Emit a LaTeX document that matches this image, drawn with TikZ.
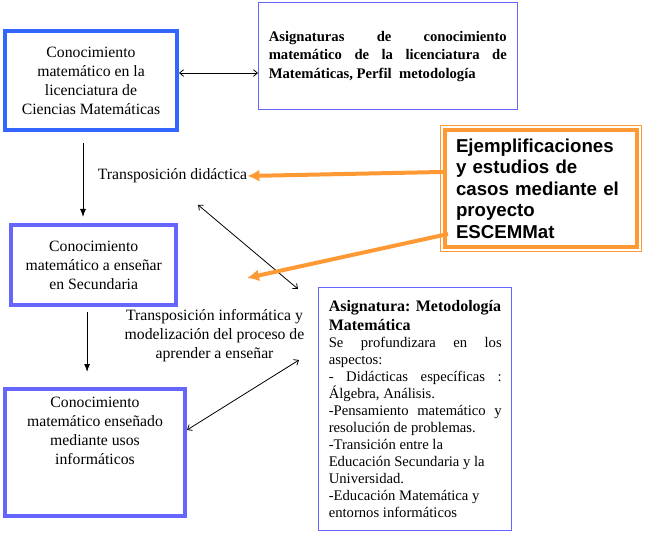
\documentclass[tikz,border=0pt]{standalone}
\usepackage{fontspec}
\setmainfont{Liberation Serif}
\newfontfamily\arialfont{Liberation Sans}
\usetikzlibrary{arrows.meta}
\definecolor{royalblue}{HTML}{3366FF}
\definecolor{softblue}{HTML}{6666FF}
\definecolor{escorange}{HTML}{FF9933}

\begin{document}
\begin{tikzpicture}[
  x=0.75pt, y=-0.75pt,
  every node/.style={font=\fontsize{11.8}{14.25}\selectfont},
  box/.style={draw=softblue, line width=3pt, fill=white, align=center, inner sep=0pt},
  thinbox/.style={draw=softblue, line width=0.75pt, inner sep=0pt},
  lbl/.style={inner sep=0pt, align=center},
  arr/.style={-{Latex[length=6pt,width=4.5pt]}, line width=0.75pt},
  dbl/.style={{Straight Barb[length=3pt,width=5pt]}-{Straight Barb[length=3pt,width=5pt]}, line width=0.6pt},
  orangearr/.style={-{Latex[length=9pt,width=9pt]}, line width=3pt, draw=escorange},
]
  \path[fill=white, use as bounding box] (0,0) rectangle (645,534);

  \node[box, draw=royalblue, minimum width=129pt, minimum height=74.25pt] (licmat) at (91,80.5)
    {Conocimiento\\matemático en la\\licenciatura de\\Ciencias Matemáticas};
  \node[thinbox, minimum width=193.9pt, minimum height=80.25pt, text width=178.5pt, align=justify,
        font=\fontsize{11}{13.9}\selectfont\bfseries] (asigmat) at (387.75,56.5)
    {Asignaturas de conocimiento\linebreak matemático de la licenciatura de\linebreak Matemáticas, Perfil\ \ metodología};
  \node[draw=escorange, line width=3pt, minimum width=144pt, minimum height=87.75pt, text width=127.5pt,
        align=left, inner sep=0pt, font=\arialfont\bfseries\fontsize{14}{16.1}\selectfont] (escemmat) at (541,188.5)
    {Ejemplificaciones\\y estudios de\\casos mediante el\\proyecto\\ESCEMMat};
  \draw[escorange, line width=0.75pt] ([shift={(-2.5,-2.5)}]escemmat.north west) rectangle ([shift={(2.5,2.5)}]escemmat.south east);
  \node[lbl] (tdlabel) at (172.5,176) {Transposición didáctica};
  \node[box, minimum width=123.4pt, minimum height=60pt] (secmat) at (93.75,265)
    {Conocimiento\\matemático a enseñar\\en Secundaria};
  \node[lbl] (tilabel) at (214.5,336) {Transposición informática y\\modelización del proceso de\\aprender a enseñar};
  \node[box, minimum width=135pt, minimum height=95.25pt] (infmat) at (95,452.5)
    {Conocimiento\\matemático enseñado\\mediante usos\\informáticos\\\strut\\\strut};
  \node[thinbox, minimum width=145.1pt, minimum height=181.9pt, text width=129.75pt, align=justify,
        font=\fontsize{11}{12.75}\selectfont] (metmat) at (415.25,408.75)
    {{\fontsize{12}{14.25}\selectfont\bfseries Asignatura: Metodología\\Matemática\par}
     Se profundizara en los\linebreak aspectos:\\
     - Didácticas específicas :\linebreak Álgebra, Análisis.\\
     -Pensamiento matemático y\linebreak resolución de problemas.\\
     -Transición entre la\\
     Educación Secundaria y la\\
     Universidad.\\
     -Educación Matemática y\\
     entornos informáticos};

  \coordinate (metcorner) at (298,289);
  \coordinate (metleft) at (299,360);
  \coordinate (sectip) at (247,278);

  \draw[dbl] ([yshift=5.6pt]licmat.east) -- ([yshift=5.6pt]licmat.east -| asigmat.west);
  \draw[arr, shorten <=8.25pt, shorten >=4.5pt] ([xshift=-6pt]licmat.south) -- ([xshift=-6pt]licmat.south |- secmat.north);
  \draw[arr, shorten <=3.75pt, shorten >=11.25pt] ([xshift=-5pt]secmat.south) -- ([xshift=-5pt]secmat.south |- infmat.north);
  \draw[dbl, shorten <=25pt] (tdlabel.south) -- (metcorner);
  \draw[dbl] ([yshift=16.9pt]infmat.east) -- (metleft);
  \draw[orangearr] ([yshift=12.4pt]escemmat.west) -- (tdlabel.east);
  \draw[orangearr] ([shift={(5,45.5)}]escemmat.west) -- (sectip);
\end{tikzpicture}
\end{document}
